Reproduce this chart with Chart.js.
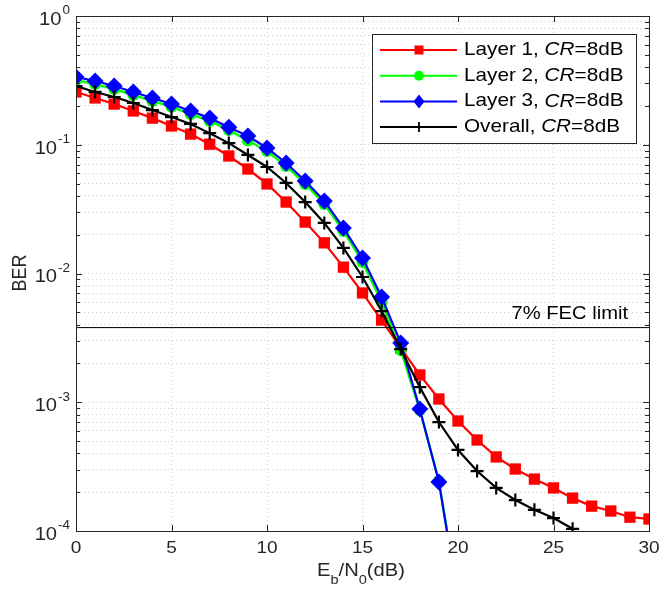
<!DOCTYPE html>
<html>
<head>
<meta charset="utf-8">
<script src="https://cdn.jsdelivr.net/npm/chart.js@4/dist/chart.umd.min.js"></script>
<style>
  body { margin: 0; background: #fff; }
  canvas { display: block; }
</style>
</head>
<body>
<canvas id="berChart" width="660" height="593"></canvas>
<script>
// Eb/N0 in dB
const ebn0 = [0, 1, 2, 3, 4, 5, 6, 7, 8, 9, 10, 11, 12, 13, 14, 15, 16, 17, 18, 19, 20,
  21, 22, 23, 24, 25, 26, 27, 28, 29, 30];

// BER values
const layer1 = [0.257, 0.231, 0.207, 0.183, 0.161, 0.140, 0.121, 0.101, 0.0818, 0.0648, 0.0496,
  0.0359, 0.0251, 0.0173, 0.0112, 0.00706, 0.00435, 0.00264, 0.00163, 0.00106, 0.000715,
  0.000509, 0.000376, 0.000303, 0.000253, 0.000216, 0.000180, 0.000156, 0.000143, 0.000128, 0.000124];
const layer2 = [0.318, 0.296, 0.271, 0.243, 0.219, 0.197, 0.173, 0.153, 0.130, 0.108, 0.0894,
  0.0684, 0.0496, 0.0347, 0.0214, 0.0123, 0.0060, 0.00255, 0.00087, 0.000245, 0.00003];
const layer3 = [0.336, 0.313, 0.286, 0.257, 0.231, 0.207, 0.183, 0.161, 0.137, 0.117, 0.0944,
  0.0722, 0.0523, 0.0366, 0.0226, 0.0132, 0.00657, 0.00289, 0.000886, 0.00024, 0.00003];
const overall = [0.286, 0.257, 0.235, 0.211, 0.186, 0.164, 0.145, 0.123, 0.103, 0.0833, 0.0672,
  0.0505, 0.0359, 0.0247, 0.0158, 0.00939, 0.00511, 0.00259, 0.00131, 0.000702, 0.000426,
  0.000292, 0.000216, 0.000174, 0.000146, 0.000126, 0.000104];
const fecLimit = 3.8e-3;

const xTicks = [0, 5, 10, 15, 20, 25, 30];
const yDecades = [-4, -3, -2, -1, 0];
const legendNames = ['Layer 1, ', 'Layer 2, ', 'Layer 3, ', 'Overall, '];
const legendColors = ['#ff0000', '#00ff00', '#0000ff', '#000000'];

const FONT = '"Liberation Sans", Arial, Helvetica, sans-serif';
const SX = 1.12; // the figure text is a bit wider than it is tall
const AX = '#262626';

function pts(arr) {
  return arr.map((v, i) => ({ x: ebn0[i], y: v }));
}

function txt(ctx, s, x, y, size, align, style) {
  ctx.save();
  ctx.font = (style || '') + ' ' + size + 'px ' + FONT;
  ctx.translate(x, y);
  ctx.scale(SX, 1);
  ctx.textAlign = align || 'left';
  ctx.textBaseline = 'middle';
  ctx.fillText(s, 0, 0);
  ctx.restore();
}
function tw(ctx, s, size, style) {
  ctx.save();
  ctx.font = (style || '') + ' ' + size + 'px ' + FONT;
  const w = ctx.measureText(s).width * SX;
  ctx.restore();
  return w;
}

function legendMarker(ctx, i, x, y) {
  ctx.save();
  ctx.fillStyle = legendColors[i];
  ctx.strokeStyle = legendColors[i];
  ctx.beginPath();
  if (i === 0) {
    ctx.rect(x - 4.5, y - 4.5, 9, 9);
    ctx.fill();
  } else if (i === 1) {
    ctx.arc(x, y, 5, 0, Math.PI * 2);
    ctx.fill();
  } else if (i === 2) {
    ctx.moveTo(x, y - 7); ctx.lineTo(x + 5.5, y); ctx.lineTo(x, y + 7); ctx.lineTo(x - 5.5, y);
    ctx.closePath();
    ctx.fill();
  } else {
    ctx.lineWidth = 1.8;
    ctx.moveTo(x - 5, y); ctx.lineTo(x + 5, y);
    ctx.moveTo(x, y - 5); ctx.lineTo(x, y + 5);
    ctx.stroke();
  }
  ctx.restore();
}

const decor = {
  id: 'decor',
  afterDraw(chart) {
    const ctx = chart.ctx;
    const a = chart.chartArea;
    const xs = chart.scales.x, ys = chart.scales.y;

    // tick marks, inward, on all four sides
    ctx.save();
    ctx.strokeStyle = AX;
    ctx.lineWidth = 1;
    ctx.beginPath();
    xTicks.forEach(v => {
      const px = Math.round(xs.getPixelForValue(v)) + 0.5;
      ctx.moveTo(px, a.bottom); ctx.lineTo(px, a.bottom - 6);
      ctx.moveTo(px, a.top); ctx.lineTo(px, a.top + 6);
    });
    ys.ticks.forEach(t => {
      const py = Math.round(ys.getPixelForValue(t.value)) + 0.5;
      const major = Math.abs(Math.log10(t.value) - Math.round(Math.log10(t.value))) < 1e-9;
      const len = major ? 6 : 4;
      ctx.moveTo(a.left, py); ctx.lineTo(a.left + len, py);
      ctx.moveTo(a.right, py); ctx.lineTo(a.right - len, py);
    });
    ctx.stroke();
    // axes box
    ctx.strokeRect(Math.round(a.left) + 0.5, Math.round(a.top) + 0.5,
      Math.round(a.right - a.left), Math.round(a.bottom - a.top));
    ctx.restore();

    ctx.save();
    ctx.fillStyle = AX;
    // x tick labels
    xTicks.forEach(v => txt(ctx, String(v), xs.getPixelForValue(v), 548, 17, 'center'));
    // y tick labels 10^n
    yDecades.forEach(e => {
      const py = ys.getPixelForValue(Math.pow(10, e));
      const ex = String(e);
      const we = tw(ctx, ex, 12);
      const right = 70;
      txt(ctx, ex, right, py - 5, 12, 'right');
      txt(ctx, '10', right - we - 1, py + 4, 18, 'right');
    });

    // x title: Eb/N0(dB)
    const parts = [['E', 18, 0], ['b', 13, 9], ['/N', 18, 0], ['0', 13, 9], ['(dB)', 18, 0]];
    let total = 0;
    parts.forEach(p => { total += tw(ctx, p[0], p[1]); });
    let cx = 361 - total / 2;
    parts.forEach(p => {
      txt(ctx, p[0], cx, 571 + p[2], p[1], 'left');
      cx += tw(ctx, p[0], p[1]);
    });

    // y title
    ctx.save();
    ctx.translate(20, 273);
    ctx.rotate(-Math.PI / 2);
    ctx.font = '18px ' + FONT;
    ctx.scale(1, SX);
    ctx.textAlign = 'center';
    ctx.textBaseline = 'middle';
    ctx.fillText('BER', 0, 0);
    ctx.restore();
    ctx.restore();

    // FEC label
    ctx.save();
    ctx.fillStyle = '#000';
    txt(ctx, '7% FEC limit', 628, ys.getPixelForValue(fecLimit) - 14, 18, 'right');
    ctx.restore();

    // legend
    ctx.save();
    const bx = 372.5, by = 34.5, bw = 264, bh = 109;
    ctx.fillStyle = '#fff';
    ctx.fillRect(bx, by, bw, bh);
    ctx.strokeStyle = AX;
    ctx.lineWidth = 1;
    ctx.strokeRect(bx, by, bw, bh);
    legendNames.forEach((name, i) => {
      const y = 50 + i * 25.7;
      ctx.strokeStyle = legendColors[i];
      ctx.lineWidth = 2;
      ctx.beginPath();
      ctx.moveTo(380, y); ctx.lineTo(457, y);
      ctx.stroke();
      legendMarker(ctx, i, 419, y);
      ctx.fillStyle = '#000';
      let tx = 464;
      txt(ctx, name, tx, y, 18.5, 'left');
      tx += tw(ctx, name, 18.5);
      txt(ctx, 'CR', tx, y, 18.5, 'left', 'italic');
      tx += tw(ctx, 'CR', 18.5, 'italic');
      txt(ctx, '=8dB', tx, y, 18.5, 'left');
    });
    ctx.restore();
  }
};

const gridStyle = { color: 'rgba(38,38,38,0.22)', lineWidth: 1, drawTicks: false };

new Chart(document.getElementById('berChart'), {
  type: 'line',
  data: {
    datasets: [
      {
        label: 'Layer 1, CR=8dB', data: pts(layer1), order: 4,
        borderColor: '#ff0000', backgroundColor: '#ff0000', borderWidth: 2.2,
        pointStyle: 'rect', pointRadius: 8, pointBorderWidth: 0
      },
      {
        label: 'Layer 2, CR=8dB', data: pts(layer2), order: 3,
        borderColor: '#00ff00', backgroundColor: '#00ff00', borderWidth: 2.4,
        pointStyle: 'circle', pointRadius: 6, pointBorderWidth: 0
      },
      {
        label: 'Layer 3, CR=8dB', data: pts(layer3), order: 2,
        borderColor: '#0000ff', backgroundColor: '#0000ff', borderWidth: 2.2,
        pointStyle: 'rectRot', pointRadius: 8.5, pointBorderWidth: 0
      },
      {
        label: 'Overall, CR=8dB', data: pts(overall), order: 1,
        borderColor: '#000000', backgroundColor: '#000000', borderWidth: 2.2,
        pointStyle: 'cross', pointRadius: 6.5, pointBorderWidth: 2.2
      },
      {
        label: '7% FEC limit', data: [{ x: 0, y: fecLimit }, { x: 30, y: fecLimit }], order: 0,
        borderColor: '#000000', borderWidth: 1, pointRadius: 0
      }
    ]
  },
  options: {
    responsive: false,
    animation: false,
    layout: { padding: { left: 76, right: 11, top: 16, bottom: 62 } },
    plugins: { legend: { display: false }, tooltip: { enabled: false } },
    elements: { line: { tension: 0 } },
    scales: {
      x: {
        type: 'linear', min: 0, max: 30,
        ticks: { display: false, stepSize: 5 },
        grid: gridStyle,
        border: { display: false, dash: [1, 3] },
        afterFit: s => { s.height = 0; }
      },
      y: {
        type: 'logarithmic', min: 1e-4, max: 1,
        ticks: { display: false },
        grid: gridStyle,
        border: { display: false, dash: [1, 3] },
        afterBuildTicks: s => {
          const t = [];
          yDecades.forEach(e => {
            for (let k = 1; k <= 9; k++) {
              const v = k * Math.pow(10, e);
              if (v <= 1.0000001) t.push({ value: v });
            }
          });
          s.ticks = t;
        },
        afterFit: s => { s.width = 0; }
      }
    }
  },
  plugins: [decor]
});
</script>
</body>
</html>
